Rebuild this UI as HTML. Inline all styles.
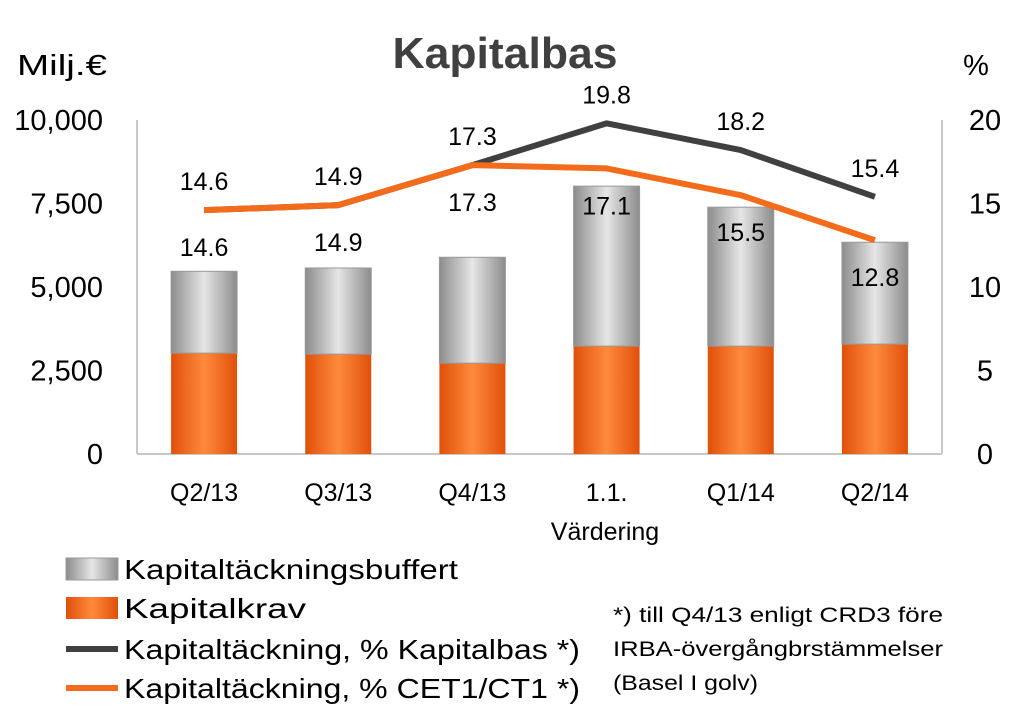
<!DOCTYPE html>
<html><head><meta charset="utf-8"><style>
body{margin:0;background:#fff;}
svg{display:block;font-family:"Liberation Sans",sans-serif;}
</style></head><body>
<svg id="c" width="1014" height="724" viewBox="0 0 1014 724">
<defs>
<linearGradient id="gg" x1="0" x2="1" y1="0" y2="0"><stop offset="0" stop-color="#8c8c8c"/><stop offset="0.5" stop-color="#e6e6e6"/><stop offset="1" stop-color="#8c8c8c"/></linearGradient>
<linearGradient id="og" x1="0" x2="1" y1="0" y2="0"><stop offset="0" stop-color="#e0500a"/><stop offset="0.5" stop-color="#ff8a3c"/><stop offset="1" stop-color="#e0500a"/></linearGradient>
</defs>
<text x="505" y="68" text-anchor="middle" font-size="44" font-weight="bold" fill="#404040" textLength="225" lengthAdjust="spacingAndGlyphs">Kapitalbas</text>
<text x="62" y="75" text-anchor="middle" font-size="29" fill="#000" textLength="90" lengthAdjust="spacingAndGlyphs">Milj.€</text>
<text x="976" y="75" text-anchor="middle" font-size="29" fill="#000">%</text>
<line x1="137" y1="120" x2="137" y2="454" stroke="#c8c8c8" stroke-width="2"/>
<line x1="942" y1="120" x2="942" y2="454" stroke="#c8c8c8" stroke-width="2"/>
<line x1="137" y1="454" x2="942" y2="454" stroke="#c8c8c8" stroke-width="2"/>
<g id="g"></g>
<text x="605" y="540" text-anchor="middle" font-size="25">Värdering</text>
<g>
<rect x="66" y="558" width="52" height="22" fill="url(#gg)" stroke="#999"/>
<text x="124" y="579" font-size="28" textLength="334" lengthAdjust="spacingAndGlyphs">Kapitaltäckningsbuffert</text>
<rect x="66" y="597" width="52" height="22" fill="url(#og)"/>
<text x="124" y="618" font-size="28" textLength="182" lengthAdjust="spacingAndGlyphs">Kapitalkrav</text>
<line x1="66" y1="649" x2="118" y2="649" stroke="#404040" stroke-width="6"/>
<text x="124" y="659" font-size="28" textLength="456" lengthAdjust="spacingAndGlyphs">Kapitaltäckning, % Kapitalbas *)</text>
<line x1="66" y1="688" x2="118" y2="688" stroke="#f26c1c" stroke-width="6"/>
<text x="124" y="698" font-size="28" textLength="456" lengthAdjust="spacingAndGlyphs">Kapitaltäckning, %  CET1/CT1 *)</text>
</g>
<g font-size="21">
<text x="613" y="622" textLength="330" lengthAdjust="spacingAndGlyphs">*) till Q4/13 enligt CRD3 före</text>
<text x="613" y="656" textLength="330" lengthAdjust="spacingAndGlyphs">IRBA-övergångbrstämmelser</text>
<text x="613" y="690" textLength="145" lengthAdjust="spacingAndGlyphs">(Basel I golv)</text>
</g>
</svg>
<script>
const categories=["Q2/13","Q3/13","Q4/13","1.1.","Q1/14","Q2/14"];
const capitalRequirement=[3020,2990,2720,3230,3230,3290];
const capitalBuffer=[2450,2580,3170,4790,4160,3050];
const ratioTotal=[14.6,14.9,17.3,19.8,18.2,15.4];
const ratioCet1=[14.6,14.9,17.3,17.1,15.5,12.8];
const leftTicks=[0,2500,5000,7500,10000];
const rightTicks=[0,5,10,15,20];
const NS="http://www.w3.org/2000/svg";
const g=document.getElementById("g");
const x0=137,x1=942,yb=454,yt=120,bw=66;
const step=(x1-x0)/categories.length;
const xc=i=>x0+step*(i+0.5);
const yl=v=>yb-(v/10000)*(yb-yt);
const yr=v=>yb-(v/20)*(yb-yt);
function mk(t,a){const e=document.createElementNS(NS,t);for(const k in a)e.setAttribute(k,a[k]);g.appendChild(e);return e;}
leftTicks.forEach(v=>{const t=mk("text",{x:103,y:yl(v)+10,"text-anchor":"end","font-size":29});t.textContent=v.toLocaleString("en-US");

});
rightTicks.forEach(v=>{const t=mk("text",{x:985,y:yr(v)+10,"text-anchor":"middle","font-size":29});t.textContent=v;

});
categories.forEach((c,i)=>{
const r1=mk("rect",{x:xc(i)-bw/2,y:yl(capitalRequirement[i]),width:bw,height:yb-yl(capitalRequirement[i]),fill:"url(#og)"});


const top=capitalRequirement[i]+capitalBuffer[i];
const r2=mk("rect",{x:xc(i)-bw/2,y:yl(top),width:bw,height:yl(capitalRequirement[i])-yl(top),fill:"url(#gg)",stroke:"#999","stroke-width":1});


const t=mk("text",{x:xc(i),y:501,"text-anchor":"middle","font-size":25});t.textContent=c;


});
function line(d,col,name){const p=mk("polyline",{points:d.map((v,i)=>xc(i)+","+yr(v)).join(" "),fill:"none",stroke:col,"stroke-width":6,"stroke-linejoin":"round"});

}
line(ratioTotal,"#404040","line-total-ratio");
line(ratioCet1,"#f26c1c","line-cet1-ratio");
ratioTotal.forEach((v,i)=>{const t=mk("text",{x:xc(i),y:yr(v)-20,"text-anchor":"middle","font-size":25});t.textContent=v.toFixed(1);

});
ratioCet1.forEach((v,i)=>{const t=mk("text",{x:xc(i),y:yr(v)+46,"text-anchor":"middle","font-size":25});t.textContent=v.toFixed(1);

});
</script>
</body></html>
